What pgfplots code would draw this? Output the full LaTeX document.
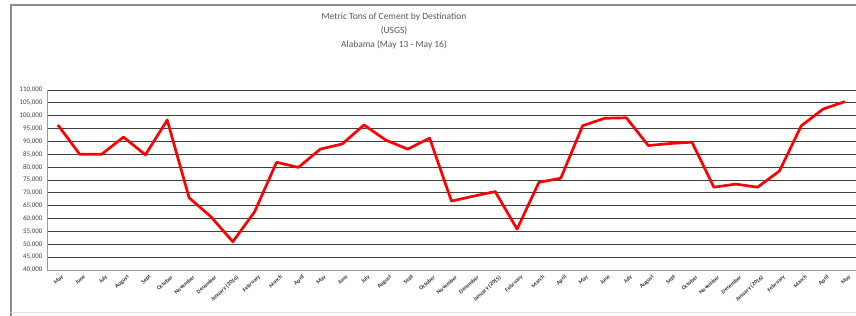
\documentclass[border=0pt]{standalone}
\usepackage{pgfplots}
\pgfplotsset{compat=1.18}
\usepackage{fontspec}
\setmainfont{Carlito}
\begin{document}
\begin{tikzpicture}
\begin{axis}[at={(47bp,46bp)}, anchor=south west, scale only axis,
  width=809bp, height=180bp,
  xmin=-0.5, xmax=36.5, ymin=40000, ymax=110000,
  ytick={40000,45000,...,110000},
  axis y line=left, axis x line=bottom,
  axis line style={-, black!40, line width=1bp},
  ymajorgrids, major grid style={black!75, line width=1bp},
  xtick={0,...,36},
  xticklabels={May,June,July,August,Sept,October,November,December,January (2014),February,March,April,May,June,July,August,Sept,October,November,December,January (2015),February,March,April,May,June,July,August,Sept,October,November,December,January (2016),February,March,April,May},
  x tick label style={rotate=42, anchor=north east, font=\bfseries\fontsize{5.8}{6}\selectfont, text=black!80, inner sep=0.5bp, yshift=-5bp},
  major tick length=0,
  y tick label style={font=\fontsize{7}{8}\selectfont, text=black!75, xshift=-1bp},
  scaled y ticks=false,
  yticklabel style={/pgf/number format/.cd, fixed, 1000 sep={,}, assume math mode=true},
  clip=false]
\addplot[red, line width=2.7bp, line join=round, mark=none] coordinates {
(0,96400) (1,85000) (2,85000) (3,91700) (4,84800) (5,98300) (6,68100) (7,60700) (8,51000) (9,62700) (10,81900) (11,79900) (12,87000) (13,89000) (14,96400) (15,90500) (16,87000) (17,91300) (18,66800) (19,68700) (20,70500) (21,55900) (22,74100) (23,75700) (24,96100) (25,99000) (26,99200) (27,88400) (28,89200) (29,89700) (30,72200) (31,73400) (32,72200) (33,78500) (34,96100) (35,102600) (36,105500)
};
\end{axis}
\draw[black!45, line width=1.2bp] (11bp,-5bp) -- (11bp,311bp) -- (900bp,311bp);
\draw[black!12, line width=1bp] (11bp,3bp) -- (900bp,3bp);
\node[align=center, text=black!65, inner sep=0, anchor=north, font=\fontsize{9.5}{13.7}\selectfont] at (394bp,303bp) {Metric Tons of Cement by Destination\\(USGS)\\Alabama (May 13 - May 16)};
\pgfresetboundingbox
\useasboundingbox (0,0) rectangle (856bp,316bp);
\end{tikzpicture}
\end{document}
